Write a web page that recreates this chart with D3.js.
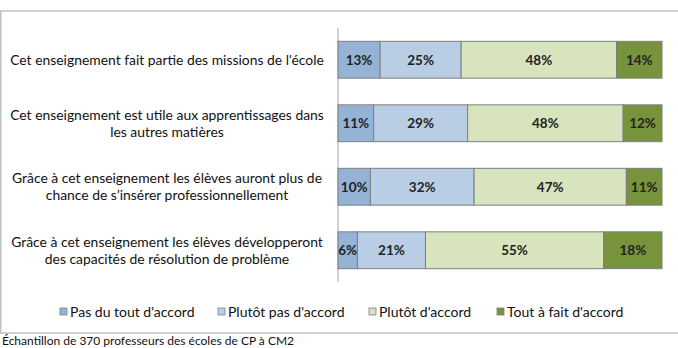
<!DOCTYPE html>
<html><head><meta charset="utf-8">
<script src="https://cdn.jsdelivr.net/npm/d3@7"></script>
<style>body{margin:0;background:#fff;}svg{display:block;}</style>
</head><body>
<script>
const categories = [
  ["Cet enseignement fait partie des missions de l'école"],
  ["Cet enseignement est utile aux apprentissages dans", "les autres matières"],
  ["Grâce à cet enseignement les élèves auront plus de", "chance de s’insérer professionnellement"],
  ["Grâce à cet enseignement les élèves développeront", "des capacités de résolution de problème"]
];
const seriesNames = ["Pas du tout d'accord", "Plutôt pas d'accord", "Plutôt d'accord", "Tout à fait d'accord"];
const pasDuTout = [13, 11, 10, 6];
const plutotPas = [25, 29, 32, 21];
const plutotAccord = [48, 48, 47, 55];
const toutAFait = [14, 12, 11, 18];
const caption = "Échantillon de 370 professeurs des écoles de CP à CM2";

const colors = ["#95B3D7", "#B9CDE5", "#D7E4BD", "#77933C"];
const W = 678, H = 348;
const svg = d3.select("body").append("svg").attr("width", W).attr("height", H);
const font = "Lato, 'Open Sans', sans-serif";

// frame
svg.append("line").attr("x1", 0).attr("x2", W).attr("y1", 11).attr("y2", 11).attr("stroke", "#c0c0c0").attr("stroke-width", 1.5);
svg.append("line").attr("x1", 0).attr("x2", W).attr("y1", 333).attr("y2", 333).attr("stroke", "#c0c0c0").attr("stroke-width", 1.5);
svg.append("line").attr("x1", 0.75).attr("x2", 0.75).attr("y1", 11).attr("y2", 333).attr("stroke", "#c0c0c0").attr("stroke-width", 1.5);

const series = [pasDuTout, plutotPas, plutotAccord, toutAFait];
const rows = categories.map((c, i) => ({key: i, vals: series.map(s => s[i])}));

const x = d3.scaleLinear().domain([0, 100]).range([338, 662]);
const y = d3.scaleBand().domain(d3.range(categories.length)).range([28, 282]).paddingInner(0.42).paddingOuter(0.21);

svg.append("line").attr("x1", 338).attr("x2", 338).attr("y1", 28).attr("y2", 282).attr("stroke", "#a6a6a6").attr("stroke-width", 1);

rows.forEach((r, i) => {
  let acc = 0;
  r.vals.forEach((v, j) => {
    const x0 = x(acc), x1 = x(acc + v);
    svg.append("rect").attr("x", x0).attr("y", y(i)).attr("width", x1 - x0).attr("height", y.bandwidth())
      .attr("fill", colors[j]).attr("stroke", "#7f7f7f").attr("stroke-width", 1);
    svg.append("text").attr("x", (x0 + x1) / 2).attr("y", y(i) + y.bandwidth() / 2).attr("dy", "0.36em")
      .attr("text-anchor", "middle").attr("font-family", font).attr("font-weight", "bold").attr("font-size", 13.5)
      .attr("fill", "#222").text(v + "%");
    acc += v;
  });
  const lines = categories[i];
  const cy = y(i) + y.bandwidth() / 2;
  lines.forEach((l, k) => {
    svg.append("text").attr("x", 167).attr("y", cy + (k - (lines.length - 1) / 2) * 17).attr("dy", "0.36em")
      .attr("text-anchor", "middle").attr("font-family", font).attr("font-size", 13.9).attr("fill", "#111").text(l);
  });
});

// legend
const legX = [60, 218, 369, 497];
seriesNames.forEach((n, j) => {
  svg.append("rect").attr("x", legX[j]).attr("y", 308).attr("width", 7).attr("height", 7)
    .attr("fill", colors[j]).attr("stroke", "#7f7f7f").attr("stroke-width", 0.8);
  svg.append("text").attr("x", legX[j] + 10).attr("y", 312).attr("dy", "0.36em")
    .attr("font-family", font).attr("font-size", 14).attr("fill", "#111").text(n);
});

svg.append("text").attr("x", 2).attr("y", 345).attr("font-family", font).attr("font-size", 12).attr("fill", "#111").text(caption);
</script>
</body></html>
